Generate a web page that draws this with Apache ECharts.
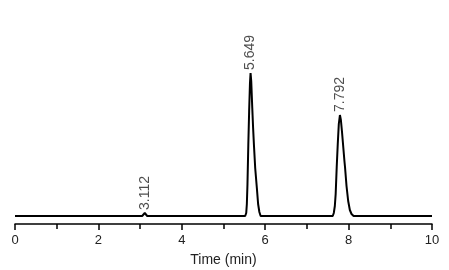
<!DOCTYPE html>
<html>
<head>
<meta charset="utf-8">
<script src="https://cdn.jsdelivr.net/npm/echarts@6/dist/echarts.min.js"></script>
<style>html,body{margin:0;padding:0;background:#fff}#c{width:449px;height:270px}</style>
</head>
<body>
<div id="c"></div>
<script>
// Chromatogram trace: [time (min), signal]
const traceTimes = [0, 1, 2, 3.05, 3.08, 3.112, 3.14, 3.17, 4, 5,
  5.52, 5.545, 5.56, 5.575, 5.595, 5.615, 5.635, 5.649, 5.665, 5.69, 5.71, 5.73, 5.76, 5.80, 5.83, 5.86, 5.89, 6.5, 7,
  7.62, 7.645, 7.67, 7.69, 7.715, 7.74, 7.765, 7.792, 7.815, 7.84, 7.87, 7.90, 7.914, 7.95, 7.99, 8.03, 8.07, 8.12,
  8.5, 9, 9.5, 10];
const traceSignal = [0, 0, 0, 0, 1, 3, 1, 0, 0, 0,
  0, 3, 12, 32, 71, 105, 133, 143, 135, 108, 88, 71, 48, 28, 12, 4, 0, 0, 0,
  0, 3, 10, 22, 49, 72, 92, 101, 96, 85, 70, 55, 49, 30, 15, 6, 2, 0,
  0, 0, 0, 0];
// Labelled peaks
const peakTimes = [3.112, 5.649, 7.792];
const peakHeights = [3, 143, 101];
const xTicks = [0, 2, 4, 6, 8, 10];

const chart = echarts.init(document.getElementById('c'));
const font = 'Liberation Sans, Arial, sans-serif';
chart.setOption({
  animation: false,
  grid: {left: 15, right: 17, top: 64, bottom: 46, containLabel: false, outerBoundsMode: 'none'},
  xAxis: {
    type: 'value', min: 0, max: 10, interval: 2,
    name: 'Time (min)', nameLocation: 'middle', nameGap: 29,
    nameTextStyle: {fontFamily: font, fontSize: 14, color: '#222'},
    axisLine: {onZero: false, lineStyle: {color: '#000', width: 1.5}},
    axisTick: {show: true, inside: false, length: 6, lineStyle: {color: '#000', width: 1.5}},
    minorTick: {show: true, splitNumber: 2, length: 5, lineStyle: {color: '#000', width: 1.5}},
    axisLabel: {fontFamily: font, fontSize: 13, color: '#222', margin: 10,
      formatter: v => xTicks.includes(v) ? String(v) : ''},
    splitLine: {show: false}
  },
  yAxis: {type: 'value', min: -8, max: 152, show: false},
  series: [
    {
      type: 'line', symbol: 'none', smooth: false, sampling: 'none',
      lineStyle: {color: '#000', width: 2},
      data: traceTimes.map((t, i) => [t, traceSignal[i]])
    },
    {
      type: 'scatter', symbolSize: 0,
      data: peakTimes.map((t, i) => [t, peakHeights[i]]),
      label: {
        show: true, position: 'top', distance: 3, rotate: 90,
        align: 'left', verticalAlign: 'middle',
        fontFamily: font, fontSize: 14, color: '#222',
        formatter: p => p.value[0].toFixed(3)
      }
    }
  ]
});
</script>
</body>
</html>
